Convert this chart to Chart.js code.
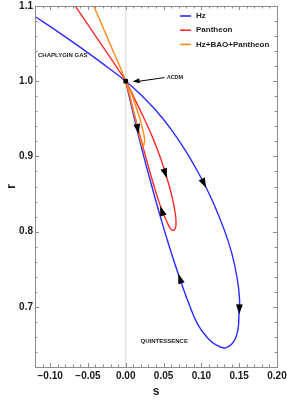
<!DOCTYPE html>
<html>
<head>
<meta charset="utf-8">
<script src="https://cdn.jsdelivr.net/npm/chart.js@4"></script>
<style>
  html, body { margin: 0; padding: 0; background: #fff; }
  #wrap { width: 287px; height: 401px; }
</style>
</head>
<body>
<div id="wrap"><canvas id="srChart"></canvas></div>
<script>
// s - r trajectories
const hzS = [-0.12, -0.09, -0.06, -0.03, 0, 0.02, 0.04, 0.06, 0.08, 0.1, 0.115, 0.13, 0.14, 0.147, 0.1505, 0.1497, 0.1484, 0.143, 0.132, 0.12, 0.108, 0.095, 0.082, 0.07, 0.058, 0.046, 0.034, 0.022, 0.011, 0];
const hzR = [1.086, 1.066, 1.045, 1.023, 1.0, 0.982, 0.961, 0.936, 0.906, 0.871, 0.840, 0.803, 0.772, 0.740, 0.71, 0.69, 0.67, 0.654, 0.6455, 0.649, 0.659, 0.677, 0.708, 0.742, 0.779, 0.819, 0.862, 0.907, 0.952, 1.0];

const panS = [-0.0667, -0.033, 0, 0.012, 0.024, 0.036, 0.047, 0.056, 0.062, 0.0655, 0.0665, 0.0655, 0.0625, 0.059, 0.055, 0.0476, 0.04, 0.032, 0.023, 0.014, 0.006, 0];
const panR = [1.1, 1.05, 1.0, 0.976, 0.951, 0.924, 0.895, 0.866, 0.843, 0.824, 0.812, 0.804, 0.8015, 0.804, 0.812, 0.829, 0.852, 0.879, 0.912, 0.946, 0.977, 1.0];

const allS = [-0.0423, -0.021, 0, 0.0076, 0.0164, 0.0222, 0.025, 0.02, 0.012, 0.005, 0];
const allR = [1.1, 1.05, 1.0, 0.971, 0.935, 0.913, 0.922, 0.945, 0.971, 0.99, 1.0];

const seriesNames = ['Hz', 'Pantheon', 'Hz+BAO+Pantheon'];
const seriesColors = ['#2b2bff', '#ff2b2b', '#ff8a1c'];

const xTicks = [-0.10, -0.05, 0.00, 0.05, 0.10, 0.15, 0.20];
const yTicks = [0.7, 0.8, 0.9, 1.0, 1.1];

const lcdmPoint = [0, 1];
// arrowheads on the curves: [tipS, tipR, fromS, fromR]
const arrowHeads = [
  [0.1063, 0.858, 0.098, 0.875],
  [0.1500, 0.690, 0.1505, 0.712],
  [0.0695, 0.744, 0.0765, 0.723],
  [0.0543, 0.871, 0.0495, 0.886],
  [0.0455, 0.834, 0.051, 0.818],
  [0.017, 0.930, 0.0135, 0.948]
];
// text labels: [text, s, r]
const regionLabels = [
  ['CHAPLYGIN GAS', -0.116, 1.034],
  ['QUINTESSENCE', 0.0196, 0.654]
];
const lcdmLabel = ['ΛCDM', 0.0545, 1.0055];
const lcdmArrow = [0.051, 1.0048, 0.009, 0.9995];

const toPoints = (xs, ys) => xs.map((x, i) => ({ x: x, y: ys[i] }));

const fmtMinus = (txt) => txt.replace('-', '\u2212');

function arrowHead(ctx, x1, y1, x2, y2, len, half) {
  const a = Math.atan2(y2 - y1, x2 - x1);
  ctx.save();
  ctx.translate(x2, y2);
  ctx.rotate(a);
  ctx.beginPath();
  ctx.moveTo(0, 0);
  ctx.lineTo(-len, half);
  ctx.lineTo(-len, -half);
  ctx.closePath();
  ctx.fill();
  ctx.restore();
}

const framePlugin = {
  id: 'frame',
  beforeDatasetsDraw(chart) {
    const { ctx, chartArea: a, scales } = chart;
    const x0 = scales.x.getPixelForValue(0);
    ctx.save();
    ctx.strokeStyle = '#e2e2e2';
    ctx.lineWidth = 1.5;
    ctx.beginPath();
    ctx.moveTo(x0, a.top);
    ctx.lineTo(x0, a.bottom);
    ctx.stroke();
    ctx.restore();
  },
  afterDatasetsDraw(chart) {
    const { ctx, chartArea: a, scales } = chart;
    const sx = scales.x, sy = scales.y;
    ctx.save();

    // frame and inward ticks
    ctx.strokeStyle = '#8c8c8c';
    ctx.lineWidth = 1;
    ctx.strokeRect(a.left + 0.5, a.top + 0.5, a.right - a.left, a.bottom - a.top);
    ctx.beginPath();
    for (let k = -12; k <= 20; k++) {
      const v = k / 100;
      const px = Math.round(sx.getPixelForValue(v)) + 0.5;
      const len = (k % 5 === 0) ? 4 : 2.5;
      ctx.moveTo(px, a.bottom); ctx.lineTo(px, a.bottom - len);
      ctx.moveTo(px, a.top); ctx.lineTo(px, a.top + len);
    }
    for (let k = 31; k <= 55; k++) {
      const v = k / 50;
      const py = Math.round(sy.getPixelForValue(v)) + 0.5;
      const len = (k % 5 === 0) ? 4 : 2.5;
      ctx.moveTo(a.left, py); ctx.lineTo(a.left + len, py);
      ctx.moveTo(a.right, py); ctx.lineTo(a.right - len, py);
    }
    ctx.stroke();

    // arrowheads along the trajectories
    ctx.fillStyle = '#000';
    arrowHeads.forEach(h => {
      arrowHead(ctx,
        sx.getPixelForValue(h[2]), sy.getPixelForValue(h[3]),
        sx.getPixelForValue(h[0]), sy.getPixelForValue(h[1]), 10, 3.4);
    });

    // LCDM pointer
    const ax1 = sx.getPixelForValue(lcdmArrow[0]), ay1 = sy.getPixelForValue(lcdmArrow[1]);
    const ax2 = sx.getPixelForValue(lcdmArrow[2]), ay2 = sy.getPixelForValue(lcdmArrow[3]);
    ctx.strokeStyle = '#000';
    ctx.lineWidth = 1;
    ctx.beginPath();
    ctx.moveTo(ax1, ay1);
    ctx.lineTo(ax2 + 4, ay2);
    ctx.stroke();
    arrowHead(ctx, ax1, ay1, ax2, ay2, 7, 2.6);

    // text labels
    ctx.fillStyle = '#222';
    ctx.textBaseline = 'middle';
    ctx.textAlign = 'left';
    ctx.font = 'bold 6px "Liberation Sans", Arial, sans-serif';
    regionLabels.forEach(l => {
      ctx.fillText(l[0], sx.getPixelForValue(l[1]), sy.getPixelForValue(l[2]));
    });
    ctx.font = 'bold 5.5px "Liberation Sans", Arial, sans-serif';
    ctx.fillText(lcdmLabel[0], sx.getPixelForValue(lcdmLabel[1]), sy.getPixelForValue(lcdmLabel[2]));

    // legend
    ctx.font = 'bold 8px "Liberation Sans", Arial, sans-serif';
    const lx = a.right - 97;
    seriesNames.forEach((name, i) => {
      const ly = a.top + 10 + i * 14.2;
      ctx.strokeStyle = seriesColors[i];
      ctx.lineWidth = 1.6;
      ctx.beginPath();
      ctx.moveTo(lx, ly);
      ctx.lineTo(lx + 11, ly);
      ctx.stroke();
      ctx.fillStyle = '#222';
      ctx.fillText(name, lx + 16, ly);
    });
    ctx.restore();
  }
};

const tickFont = { family: '"Liberation Sans", Arial, sans-serif', size: 10, weight: 'bold' };
const titleFont = { family: '"Liberation Sans", Arial, sans-serif', size: 12, weight: 'bold' };

const lineSet = (label, xs, ys, color, order) => ({
  label: label,
  data: toPoints(xs, ys),
  showLine: true,
  borderColor: color,
  backgroundColor: color,
  borderWidth: 1.4,
  pointRadius: 0,
  tension: 0.35,
  order: order
});

new Chart(document.getElementById('srChart'), {
  type: 'scatter',
  data: {
    datasets: [
      lineSet(seriesNames[0], hzS, hzR, seriesColors[0], 3),
      lineSet(seriesNames[1], panS, panR, seriesColors[1], 2),
      lineSet(seriesNames[2], allS, allR, seriesColors[2], 1),
      {
        label: 'LCDM',
        data: [{ x: lcdmPoint[0], y: lcdmPoint[1] }],
        pointStyle: 'rect',
        pointRadius: 2.6,
        backgroundColor: '#000',
        borderColor: '#000',
        order: 0
      }
    ]
  },
  options: {
    responsive: true,
    maintainAspectRatio: false,
    animation: false,
    layout: { padding: { top: 6, right: 10, left: 0, bottom: 0 } },
    plugins: { legend: { display: false }, tooltip: { enabled: false } },
    scales: {
      x: {
        type: 'linear',
        min: -0.12,
        max: 0.2,
        grid: { display: false, drawTicks: false, tickLength: 0 },
        border: { display: false },
        afterBuildTicks: (axis) => { axis.ticks = xTicks.map(v => ({ value: v })); },
        afterFit: (s) => { s.height = 34; s.paddingLeft = 0; s.paddingRight = 0; },
        ticks: {
          padding: 3,
          color: '#1a1a1a',
          font: tickFont,
          maxRotation: 0,
          autoSkip: false,
          callback: (v) => fmtMinus(Number(v).toFixed(2))
        },
        title: { display: true, text: 's', color: '#1a1a1a', font: titleFont, padding: { top: 0, bottom: 2 } }
      },
      y: {
        type: 'linear',
        min: 0.62,
        max: 1.1,
        grid: { display: false, drawTicks: false, tickLength: 0 },
        border: { display: false },
        afterBuildTicks: (axis) => { axis.ticks = yTicks.map(v => ({ value: v })); },
        afterFit: (s) => { s.width = 35; s.paddingTop = 0; s.paddingBottom = 0; },
        ticks: {
          padding: 2,
          color: '#1a1a1a',
          font: tickFont,
          autoSkip: false,
          callback: (v) => Number(v).toFixed(1)
        },
        title: { display: true, text: 'r', color: '#1a1a1a', font: titleFont, padding: { top: 4, bottom: 0 } }
      }
    }
  },
  plugins: [framePlugin]
});
</script>
</body>
</html>
